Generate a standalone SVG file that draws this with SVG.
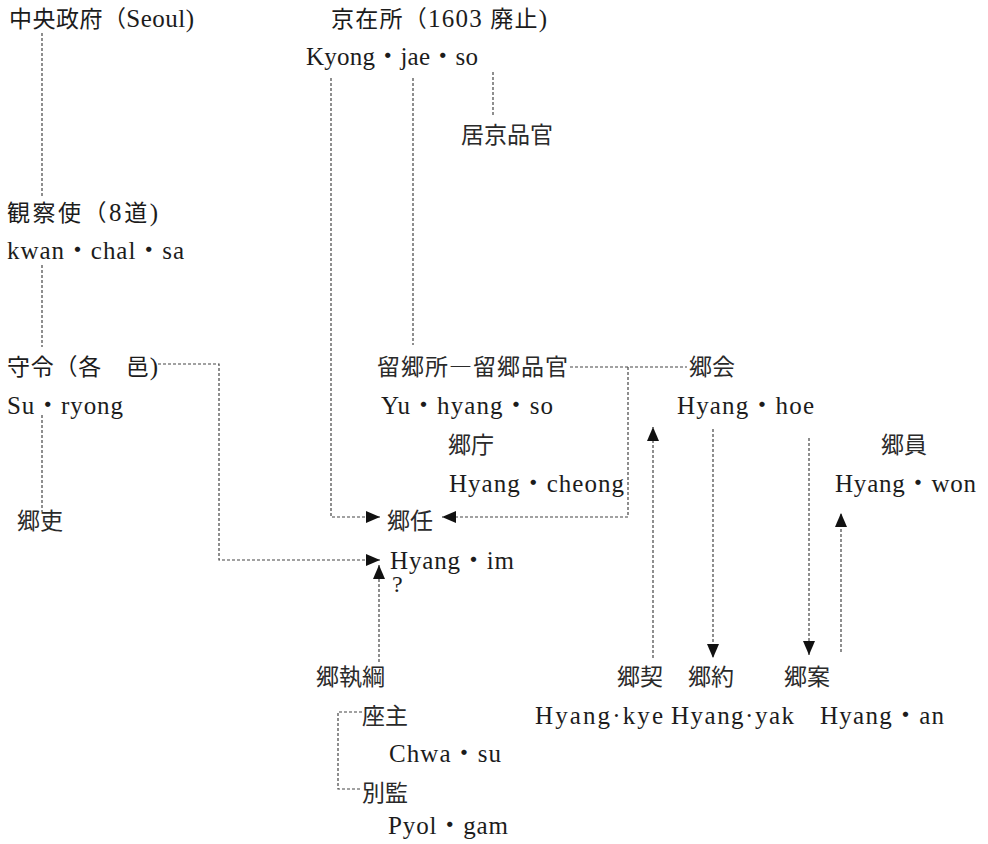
<svg xmlns="http://www.w3.org/2000/svg" width="988" height="844" viewBox="0 0 988 844">
<defs>
<style>
text{font-family:"Liberation Serif","Noto Sans CJK JP",serif;font-size:23px;fill:#1c1c1c}
.la{font-size:25px}
.q{font-size:24px}
.cj{font-family:"Noto Sans CJK JP","Liberation Serif",sans-serif;fill:#2a2a2a}
.ln{fill:none;stroke:#444;stroke-width:1.2;stroke-dasharray:3 2}
.ar{marker-end:url(#ah)}
</style>
<marker id="ah" markerUnits="userSpaceOnUse" markerWidth="15" markerHeight="13" refX="14" refY="6" orient="auto">
<path d="M0,0 L14,6 L0,12 z" fill="#111"/>
</marker>
</defs>
<rect width="988" height="844" fill="#fff"/>
<g id="connectors">
<path class="ln" d="M42,33 V197"/>
<path class="ln" d="M42,265 V347"/>
<path class="ln" d="M42,415 V512"/>
<path class="ln ar" d="M331,78 V517 H380"/>
<path class="ln" d="M413,78 V345"/>
<path class="ln" d="M493,72 V115"/>
<path class="ln ar" d="M158,364 H219 V560 H380"/>
<path class="ln" d="M570,367 H687"/>
<path class="ln ar" d="M628,367 V517 H442"/>
<path class="ln ar" d="M379,662 V565"/>
<path class="ln" d="M362,712 H338 V789 H362"/>
<path class="ln ar" d="M653,658 V427"/>
<path class="ln ar" d="M713,429 V658"/>
<path class="ln ar" d="M809,438 V655"/>
<path class="ln ar" d="M841,652 V513"/>
</g>
<g id="n-chuo"><text x="9" y="27" textLength="185" lengthAdjust="spacing">中央政府（<tspan class="la">Seoul)</tspan></text></g>
<g id="n-kyongjaeso">
<text x="331" y="27" textLength="216" lengthAdjust="spacing">京在所（<tspan class="la">1603</tspan> 廃止<tspan class="la">)</tspan></text>
<text class="la" x="306" y="65" textLength="172" lengthAdjust="spacing">Kyong・jae・so</text>
</g>
<g id="n-kogyo"><text class="cj" x="461" y="143">居京品官</text></g>
<g id="n-kwanchalsa">
<text x="7" y="221" textLength="151" lengthAdjust="spacing">観察使（<tspan class="la">8</tspan>道<tspan class="la">)</tspan></text>
<text class="la" x="7" y="259" textLength="177" lengthAdjust="spacing">kwan・chal・sa</text>
</g>
<g id="n-suryong">
<text x="7" y="375" textLength="151" lengthAdjust="spacing">守令（各　邑<tspan class="la">)</tspan></text>
<text class="la" x="7" y="414" textLength="116" lengthAdjust="spacing">Su・ryong</text>
</g>
<g id="n-hyangri"><text class="cj" x="17" y="529">郷吏</text></g>
<g id="n-yuhyangso">
<text class="cj" x="377" y="375" textLength="191" lengthAdjust="spacing">留郷所―留郷品官</text>
<text class="la" x="381" y="414" textLength="172" lengthAdjust="spacing">Yu・hyang・so</text>
</g>
<g id="n-hyangcheong">
<text class="cj" x="448" y="453">郷庁</text>
<text class="la" x="449" y="492" textLength="175" lengthAdjust="spacing">Hyang・cheong</text>
</g>
<g id="n-hyanghoe">
<text class="cj" x="689" y="375">郷会</text>
<text class="la" x="677" y="414" textLength="137" lengthAdjust="spacing">Hyang・hoe</text>
</g>
<g id="n-hyangwon">
<text class="cj" x="881" y="453">郷員</text>
<text class="la" x="835" y="492" textLength="141" lengthAdjust="spacing">Hyang・won</text>
</g>
<g id="n-hyangim">
<text class="cj" x="387" y="529">郷任</text>
<text class="la" x="390" y="569" textLength="124" lengthAdjust="spacing">Hyang・im</text>
<text class="q" x="392" y="592">?</text>
</g>
<g id="n-hyangjipgang"><text class="cj" x="316" y="685">郷執綱</text></g>
<g id="n-chwasu">
<text class="cj" x="362" y="724">座主</text>
<text class="la" x="389" y="762" textLength="112" lengthAdjust="spacing">Chwa・su</text>
</g>
<g id="n-pyolgam">
<text class="cj" x="362" y="801">別監</text>
<text class="la" x="388" y="834" textLength="120" lengthAdjust="spacing">Pyol・gam</text>
</g>
<g id="n-hyangkye">
<text class="cj" x="617" y="685">郷契</text>
<text class="la" x="535" y="724" textLength="128" lengthAdjust="spacing">Hyang·kye</text>
</g>
<g id="n-hyangyak">
<text class="cj" x="688" y="685">郷約</text>
<text class="la" x="671" y="724" textLength="123" lengthAdjust="spacing">Hyang·yak</text>
</g>
<g id="n-hyangan">
<text class="cj" x="784" y="685">郷案</text>
<text class="la" x="820" y="724" textLength="124" lengthAdjust="spacing">Hyang・an</text>
</g>
</svg>
